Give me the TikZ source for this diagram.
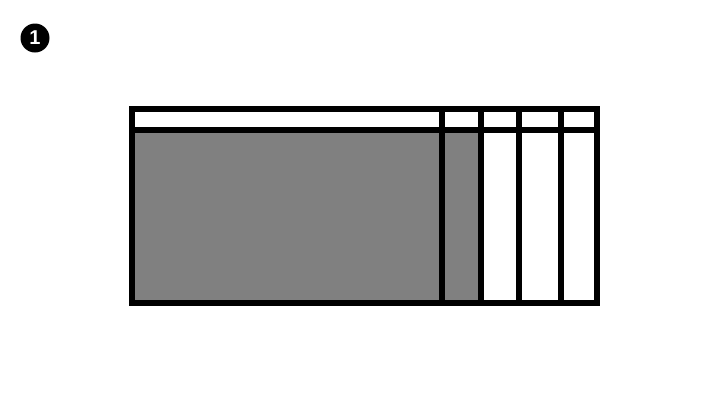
\documentclass[tikz,border=0pt]{standalone}
\usepackage{fontspec}
\setmainfont{Liberation Sans}
\begin{document}
\begin{tikzpicture}[x=1pt,y=-1pt,
  frame/.style={line width=6pt,line cap=rect},
  marker/.style={circle,fill=black,text=white,inner sep=0pt,minimum size=29pt,font=\fontsize{20}{20}\selectfont\bfseries}]
\useasboundingbox (0,0) rectangle (728,410);
\node[marker] (m) at (35,38) {1};
\fill[gray!100!white,fill=black!50] (131.5,129.5) rectangle (480.5,303);
\draw[frame] (131.5,109) rectangle (597,303);
\draw[frame] (131.5,129.5) -- (597,129.5);
\draw[frame] (441.5,109) -- (441.5,303);
\draw[frame] (480.5,109) -- (480.5,303);
\draw[frame] (518.5,109) -- (518.5,303);
\draw[frame] (560.5,109) -- (560.5,303);
\end{tikzpicture}
\end{document}
